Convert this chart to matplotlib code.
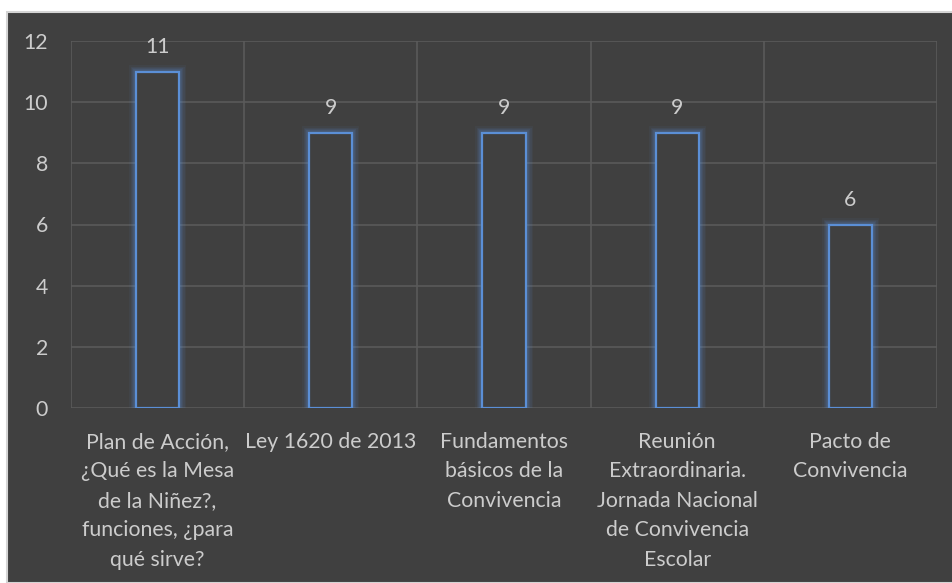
import matplotlib
matplotlib.use("Agg")
import matplotlib.pyplot as plt
from matplotlib.patches import Rectangle

categories = [
    "Plan de Acción,\n¿Qué es la Mesa\nde la Niñez?,\nfunciones, ¿para\nqué sirve?",
    "Ley 1620 de 2013",
    "Fundamentos\nbásicos de la\nConvivencia",
    "Reunión\nExtraordinaria.\nJornada Nacional\nde Convivencia\nEscolar",
    "Pacto de\nConvivencia",
]
values = [11, 9, 9, 9, 6]
yticks = [0, 2, 4, 6, 8, 10, 12]

BG = "#404040"
GRID = "#5a5a5a"
TXT = "#cccccc"
EDGE = "#5b8fd6"
FONT = ["Lato", "DejaVu Sans"]
FS = 15.3

fig = plt.figure(figsize=(9.52, 5.83), dpi=100)
fig.patch.set_facecolor("white")
fig.patches.append(Rectangle((7 / 952, 0), 1, 1 - 12 / 583, transform=fig.transFigure,
                             facecolor=BG, edgecolor="#d4d4d4", linewidth=1.5, zorder=-5))

ax = fig.add_axes([71 / 952, 1 - 408 / 583, (937 - 71) / 952, (408 - 41) / 583])
ax.set_facecolor(BG)
ax.patch.set_alpha(0)

x = list(range(len(values)))
ax.set_xlim(-0.5, len(values) - 0.5)
ax.set_ylim(0, 12)

# gridlines
for t in yticks:
    ax.axhline(t, color=GRID, lw=1.2, zorder=1)
for b in [i - 0.5 for i in range(len(values) + 1)]:
    ax.axvline(b, color=GRID, lw=1.2, zorder=1)

w = 0.25
# glow
for lw, a in [(10, 0.06), (8, 0.08), (6, 0.11), (4, 0.16)]:
    ax.bar(x, values, width=w, facecolor="none", edgecolor=EDGE, linewidth=lw, alpha=a, zorder=2)
ax.bar(x, values, width=w, facecolor=BG, edgecolor=EDGE, linewidth=1.6, zorder=3)

for xi, v in zip(x, values):
    ax.annotate(str(v), (xi, v), xytext=(0, 18), textcoords="offset points",
                ha="center", va="center", color=TXT, fontsize=FS, family=FONT)

ax.set_yticks(yticks)
ax.set_yticklabels([str(t) for t in yticks], color=TXT, fontsize=FS, family=FONT)
ax.set_xticks(x)
ax.set_xticklabels(categories, color=TXT, fontsize=FS, family=FONT, linespacing=1.6)
ax.tick_params(axis="y", length=0, pad=16.5)
ax.tick_params(axis="x", length=0, pad=17)
for s in ax.spines.values():
    s.set_visible(False)

fig.savefig("out.png", dpi=100, facecolor=fig.get_facecolor())
